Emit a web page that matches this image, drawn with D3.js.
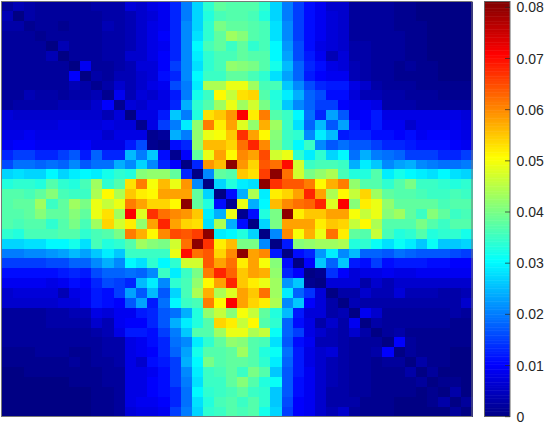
<!DOCTYPE html>
<html>
<head>
<meta charset="utf-8">
<script src="https://cdn.jsdelivr.net/npm/d3@7"></script>
<style>
html,body{margin:0;padding:0;background:#fff;}
svg{display:block;}
</style>
</head>
<body>
<div id="chart"></div>
<script>
// values, in thousandths. matrix is symmetric so
// the lower left quarter comes from topRows and the rest of bottomRows
var topRows = [
[2,4,3,2,2,2,2,2,3,3,3,7,6,8,9,13,20,27,34,38,37,37,37,34,27,20,15,11,9,6,6,2,2,2,2,1,1,0,0,0,0,0],
[4,0,3,2,2,2,2,2,2,3,3,4,6,7,9,13,20,27,33,36,37,37,36,33,27,20,15,11,9,7,6,2,2,2,2,1,1,0,0,0,0,0],
[3,3,1,2,2,1,2,2,2,4,3,4,6,8,9,13,21,27,34,40,38,38,37,36,28,21,15,11,9,7,6,2,2,2,2,1,1,1,0,0,0,0],
[2,2,2,1,2,2,2,2,2,3,3,4,6,8,10,13,21,28,34,38,43,41,37,36,28,21,15,11,9,7,6,2,2,2,2,2,1,1,0,0,0,0],
[2,2,2,2,0,4,2,2,2,3,3,4,6,8,9,13,21,30,36,38,35,38,34,36,30,22,16,11,8,7,6,3,3,2,2,2,1,1,0,0,0,0],
[2,2,2,2,4,0,2,2,2,3,3,6,6,8,10,13,21,29,34,36,36,38,37,37,30,23,16,12,9,4,7,3,3,2,2,2,1,1,0,0,0,0],
[2,2,2,2,2,2,0,9,2,2,3,4,7,7,10,15,21,28,34,36,42,41,40,37,32,25,18,13,11,8,7,4,3,2,2,1,2,1,1,0,0,0],
[2,2,2,2,2,2,10,0,3,2,4,4,6,7,11,13,21,30,35,35,38,38,36,34,28,23,18,12,10,9,9,4,3,2,2,1,1,1,1,0,0,0],
[2,2,2,2,2,2,4,3,1,3,6,4,6,8,9,16,20,29,44,44,49,49,43,36,36,26,21,16,13,12,12,8,6,3,2,2,2,1,1,1,1,1],
[2,2,4,3,3,2,3,3,4,1,9,4,7,6,8,12,20,32,35,51,46,53,54,37,33,29,24,18,16,11,11,7,4,4,3,3,2,2,2,1,1,1],
[2,3,3,3,3,4,4,4,6,10,1,7,6,8,8,13,24,34,37,43,49,43,47,40,34,26,21,18,15,15,10,9,9,8,3,3,3,2,2,2,2,2],
[7,6,6,6,6,6,6,6,6,4,7,0,8,8,12,26,20,33,53,55,59,71,52,61,37,35,30,19,13,23,17,9,10,12,8,8,8,8,8,8,8,7],
[7,7,7,7,7,8,8,7,7,8,7,7,1,8,15,20,29,42,61,52,58,48,42,57,43,35,28,18,25,17,23,12,10,12,9,9,6,8,8,8,9,8],
[8,8,9,8,8,8,8,8,8,6,8,8,8,1,2,24,20,42,49,50,55,67,58,51,41,35,34,21,29,25,12,13,13,11,11,10,11,9,10,10,9,8],
[9,10,10,9,9,9,9,10,8,8,8,12,16,1,0,11,13,42,56,56,54,62,68,60,40,35,30,35,21,17,19,17,17,15,13,13,12,11,11,11,10,9],
[13,15,15,13,13,15,17,12,18,13,13,25,20,26,11,1,10,38,49,58,51,60,58,65,47,49,34,29,34,27,30,19,24,20,19,18,15,15,15,13,13,15],
[16,19,19,18,19,18,21,17,19,19,24,21,27,21,13,10,0,13,59,56,80,59,54,64,62,70,47,35,36,36,35,24,29,26,21,23,24,21,20,19,19,20],
[27,28,27,27,30,27,29,30,29,32,34,33,41,42,42,38,13,0,21,38,37,55,53,66,80,62,47,40,42,44,36,33,33,37,29,32,30,29,28,30,28,27],
[33,34,34,33,37,34,33,36,43,34,37,53,61,50,56,49,59,21,0,27,33,29,28,80,67,64,64,61,51,57,61,42,37,37,34,37,40,35,35,34,33,34],
[37,37,36,38,41,36,35,35,44,51,44,55,52,51,58,58,58,38,27,0,11,24,44,29,52,54,58,68,58,44,51,46,54,43,38,37,37,36,35,35,36,35],
[37,38,38,43,35,38,43,40,49,46,49,61,58,54,54,51,80,38,33,11,1,49,24,30,56,60,62,63,68,48,71,41,52,49,42,38,38,38,38,36,37,37]
];
var bottomRows = [
[1,11,33,40,80,52,55,55,58,58,50,46,49,41,43,38,35,41,38,35,36],
[0,27,40,58,58,58,52,55,54,46,51,44,37,37,37,40,37,35,37,37],
[0,21,60,50,57,49,62,52,38,37,46,36,33,34,37,33,34,34,32],
[0,12,41,42,43,43,44,33,34,31,28,31,29,26,31,26,26,27],
[0,11,13,22,29,21,25,18,18,17,19,18,17,17,17,16,15],
[0,10,26,18,26,12,11,15,11,12,12,12,11,11,10,10],
[0,1,14,10,7,8,8,9,8,8,9,9,9,9,9],
[0,7,7,7,3,6,4,6,6,6,6,6,6,6],
[0,3,3,6,4,4,7,4,4,4,3,3,4],
[0,4,3,3,3,3,3,3,3,3,3,6],
[0,9,6,2,2,2,2,2,2,3,2],
[0,3,2,2,2,2,2,2,1,1],
[0,2,3,1,1,1,1,1,1],
[0,10,2,1,1,1,1,1],
[0,2,1,1,1,0,0],
[0,3,1,1,0,0],
[0,2,0,0,0],
[0,1,1,0],
[0,3,0],
[0,2],
[0]
];
var colorTicks = [0,0.01,0.02,0.03,0.04,0.05,0.06,0.07,0.08];
var tickLabels = ["0","0.01","0.02","0.03","0.04","0.05","0.06","0.07","0.08"];
var vmax = 0.081;
var jetStops = [0,0.125,0.375,0.625,0.875,1];
var jetColors = ["#000084","#0000ff","#00ffff","#ffff00","#ff0000","#800000"];

var n = 42;

function cellValue(i,j){
    var v;
    if(i<topRows.length){
        v = topRows[i][j];
    }
    else if(j>=i){
        v = bottomRows[i-topRows.length][j-i];
    }
    else if(j<topRows.length){
        v = topRows[j][i];
    }
    else{
        v = bottomRows[j-topRows.length][i-j];
    }
    return v/1000;
}

var canvas = d3.select("#chart")
                .append("svg")
                .attr("width", 545)
                .attr("height", 424);

var index = d3.range(n);
var x = d3.scaleBand().domain(index).range([1.5,472]);
var y = d3.scaleBand().domain(index).range([1.5,416.5]);
var color = d3.scaleLinear()
                .domain(jetStops.map(function(s){return s*vmax;}))
                .range(jetColors)
                .clamp(true);

var cells = [];
index.forEach(function(i){
    index.forEach(function(j){
        cells.push({i:i, j:j, v:cellValue(i,j)});
    });
});

canvas.append("g")
        .selectAll("rect")
        .data(cells)
        .join("rect")
        .attr("x", function(d){return x(d.j);})
        .attr("y", function(d){return y(d.i);})
        .attr("width", x.bandwidth()+0.5)
        .attr("height", y.bandwidth()+0.5)
        .attr("shape-rendering", "crispEdges")
        .attr("fill", function(d){return color(d.v);});

// axes box
canvas.append("rect")
        .attr("x", 1.5)
        .attr("y", 1.5)
        .attr("width", 470.5)
        .attr("height", 415)
        .attr("fill", "none")
        .attr("stroke", "#777")
        .attr("stroke-width", 1);

// colorbar
var barY = d3.scaleLinear().domain([0,vmax]).range([416.2,1.7]);
var steps = d3.range(0,256);
canvas.append("g")
        .selectAll("rect")
        .data(steps)
        .join("rect")
        .attr("x", 484.5)
        .attr("y", function(d){return barY((d+1)/256*vmax);})
        .attr("width", 25.5)
        .attr("height", function(d){return barY(d/256*vmax)-barY((d+1)/256*vmax)+0.5;})
        .attr("fill", function(d){return color((d+0.5)/256*vmax);});

canvas.append("rect")
        .attr("x", 484.5)
        .attr("y", 1.5)
        .attr("width", 25.5)
        .attr("height", 415)
        .attr("fill", "none")
        .attr("stroke", "#666")
        .attr("stroke-width", 1);

var axis = d3.axisRight(barY)
                .tickValues(colorTicks)
                .tickSize(-5)
                .tickPadding(12)
                .tickFormat(function(d,k){return tickLabels[k];});

var axisG = canvas.append("g")
        .attr("transform", "translate(510,0)")
        .call(axis);
axisG.select(".domain").remove();
axisG.selectAll("line").attr("stroke", "#262626").attr("stroke-opacity", 0.7);
axisG.selectAll("text")
        .attr("x", 6.5)
        .attr("dy", "0.36em")
        .attr("fill", "#262626")
        .style("font-family", "'Liberation Sans', Arial, sans-serif")
        .style("font-size", "14px");
</script>
</body>
</html>
